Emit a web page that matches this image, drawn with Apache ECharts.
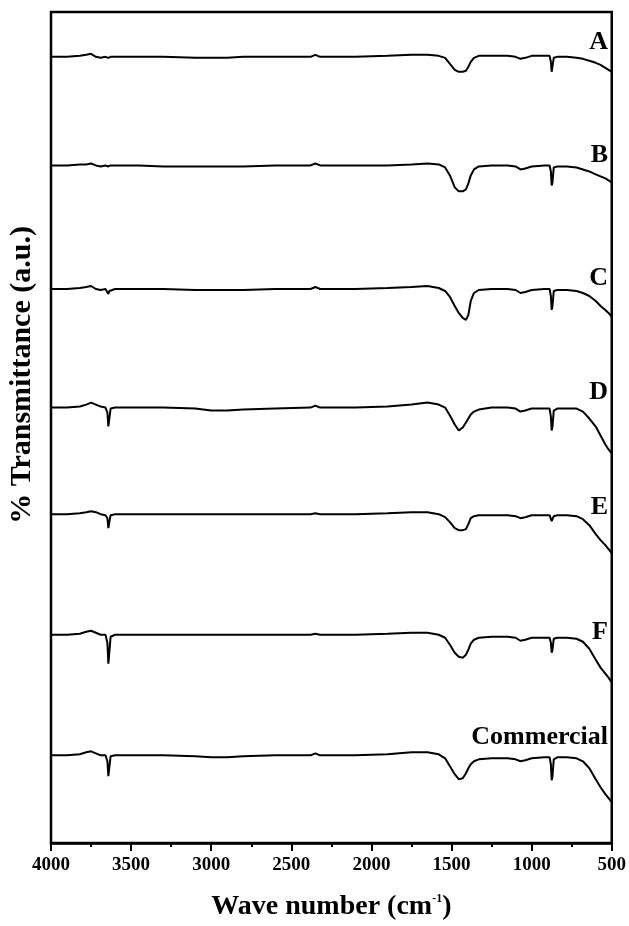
<!DOCTYPE html>
<html><head><meta charset="utf-8">
<script src="https://cdn.jsdelivr.net/npm/echarts@6/dist/echarts.min.js"></script>
<style>html,body{margin:0;padding:0;background:#fff}#c{width:629px;height:926px}</style>
</head><body><div id="c"></div>
<script>
// wavenumber grid (cm-1)
const wavenumbers = [4000,3900,3820,3780,3750,3720,3690,3660,3648,3642,3636,3628,3600,3450,3300,3100,3000,2900,2800,2600,2380,2350,2320,2100,1900,1750,1650,1580,1540,1510,1480,1455,1430,1410,1395,1380,1360,1330,1250,1150,1100,1070,1040,1000,920,888,880,875,870,862,840,780,720,680,640,600,570,540,520,500];
// transmittance (a.u., offset spectra)
const specA = [78.9,78.9,79.0,79.1,79.2,78.9,78.8,78.9,78.9,78.8,78.9,78.9,78.9,78.9,78.9,78.8,78.8,78.8,78.9,78.9,78.9,79.1,78.9,78.9,79.0,79.1,79.1,79.0,78.8,78.2,77.6,77.4,77.4,77.5,77.9,78.4,78.8,79.0,79.0,79.0,78.9,78.7,78.8,79.0,79.0,79.0,78.4,77.4,77.6,78.8,78.9,78.9,78.8,78.7,78.5,78.3,78.1,77.8,77.6,77.4];
const specB = [68.0,68.0,68.1,68.1,68.2,68.0,67.9,68.0,68.0,67.9,68.0,68.0,68.0,68.0,67.9,67.9,67.9,67.9,67.9,68.0,68.0,68.2,68.0,68.0,68.0,68.1,68.2,68.1,67.8,67.0,65.8,65.4,65.4,65.6,66.2,67.0,67.6,67.9,68.0,68.0,67.9,67.6,67.7,67.9,68.0,68.0,67.4,66.0,66.3,67.8,67.9,67.9,67.8,67.6,67.4,67.1,66.9,66.7,66.5,66.3];
const specC = [55.6,55.6,55.7,55.8,55.9,55.6,55.5,55.6,55.5,55.1,55.4,55.6,55.6,55.6,55.6,55.5,55.5,55.5,55.5,55.6,55.6,55.8,55.6,55.6,55.7,55.8,55.9,55.7,55.4,54.8,53.9,53.2,52.7,52.5,53.0,54.4,55.2,55.5,55.6,55.6,55.5,55.2,55.3,55.5,55.6,55.6,54.9,53.5,53.9,55.4,55.5,55.5,55.4,55.2,54.9,54.4,53.9,53.5,53.2,52.8];
const specD = [43.7,43.7,43.8,44.0,44.2,44.0,43.8,43.7,43.2,41.8,42.6,43.6,43.7,43.7,43.7,43.6,43.4,43.4,43.5,43.6,43.7,43.9,43.7,43.7,43.8,44.0,44.2,44.0,43.7,42.9,42.0,41.4,41.7,42.2,42.6,43.0,43.3,43.5,43.7,43.7,43.6,43.3,43.4,43.6,43.6,43.6,42.8,41.4,41.8,43.4,43.6,43.6,43.6,43.3,42.6,41.8,40.9,40.0,39.5,39.1];
const specE = [33.0,33.0,33.1,33.2,33.3,33.2,33.0,32.9,32.6,31.6,32.2,32.9,33.0,33.0,33.0,33.0,33.0,33.0,33.0,33.0,33.0,33.1,33.0,33.0,33.1,33.2,33.2,33.0,32.7,32.2,31.6,31.4,31.4,31.5,32.0,32.6,32.8,32.9,32.9,32.9,32.8,32.6,32.7,32.9,32.9,32.9,32.7,32.3,32.4,32.8,32.9,32.9,32.8,32.5,31.9,31.0,30.4,29.9,29.5,29.1];
const specF = [20.9,20.9,21.0,21.2,21.3,21.1,20.9,20.9,20.1,18.0,19.1,20.7,20.9,20.9,20.9,20.9,20.9,20.9,20.9,20.9,20.9,21.0,20.9,20.9,21.0,21.1,21.1,20.9,20.6,19.9,19.1,18.7,18.6,18.9,19.4,20.0,20.4,20.6,20.7,20.7,20.6,20.3,20.4,20.6,20.6,20.6,20.1,19.1,19.4,20.5,20.6,20.6,20.5,20.2,19.5,18.4,17.6,17.0,16.6,16.1];
const specCommercial = [8.8,8.8,8.9,9.1,9.2,9.0,8.8,8.8,8.2,6.7,7.6,8.7,8.8,8.8,8.8,8.7,8.6,8.6,8.7,8.8,8.8,9.0,8.8,8.8,8.9,9.1,9.1,8.9,8.5,7.7,6.9,6.4,6.5,7.0,7.5,7.9,8.2,8.4,8.5,8.5,8.4,8.2,8.3,8.5,8.6,8.6,7.9,6.3,6.7,8.4,8.6,8.6,8.5,8.2,7.5,6.4,5.6,4.9,4.5,4.1];
const seriesNames = ['A','B','C','D','E','F','Commercial'];
const xTicks = [4000,3500,3000,2500,2000,1500,1000,500];

const allSpectra = [specA,specB,specC,specD,specE,specF,specCommercial];
const FONT = "'Liberation Serif','Times New Roman',serif";
const chart = echarts.init(document.getElementById('c'), null, {renderer:'canvas'});

const labelY = [42,155,278,392,507,632,737];
const graphics = seriesNames.map((n,i)=>({
  type:'text', x: 608, y: labelY[i],
  style:{text:n, font:"bold 26px "+FONT, fill:'#000', textAlign:'right', textVerticalAlign:'middle', align:'right', verticalAlign:'middle'}
}));
graphics.push({
  type:'text', x: 22, y: 375, rotation: Math.PI/2,
  style:{text:'% Transmittance (a.u.)', font:"bold 30px "+FONT, fill:'#000', textAlign:'center', textVerticalAlign:'middle', align:'center', verticalAlign:'middle'}
});

chart.setOption({
  animation:false,
  backgroundColor:'#fff',
  grid:{left:51,right:17,top:12,bottom:80,show:true,borderColor:'#000',borderWidth:2.5,backgroundColor:'transparent'},
  xAxis:{
    type:'value', min:500, max:4000, interval:500, inverse:true,
    axisLine:{show:true,lineStyle:{color:'#000',width:2.5}},
    axisTick:{show:true,length:8,lineStyle:{color:'#000',width:2}},
    minorTick:{show:true,splitNumber:2,length:4,lineStyle:{color:'#000',width:2}},
    splitLine:{show:false},
    axisLabel:{color:'#000',fontSize:19,fontWeight:'bold',fontFamily:FONT,margin:13,
      formatter:v=>xTicks.includes(v)?String(v):''},
    name:'Wave number (cm{sup|-1})', nameLocation:'middle', nameGap:50,
    nameTextStyle:{color:'#000',fontSize:28,fontWeight:'bold',fontFamily:FONT,
      rich:{sup:{fontSize:12,fontWeight:'bold',fontFamily:FONT,color:'#000',verticalAlign:'top',padding:[0,0,10,0]}}}
  },
  yAxis:{type:'value',min:0,max:83.4,show:false,splitLine:{show:false}},
  graphic: graphics,
  series: allSpectra.map((s,i)=>({
    name:seriesNames[i], type:'line', showSymbol:false, symbol:'none',
    lineStyle:{color:'#000',width:2}, silent:true,
    data: wavenumbers.map((w,j)=>[w,s[j]])
  }))
});
</script></body></html>
